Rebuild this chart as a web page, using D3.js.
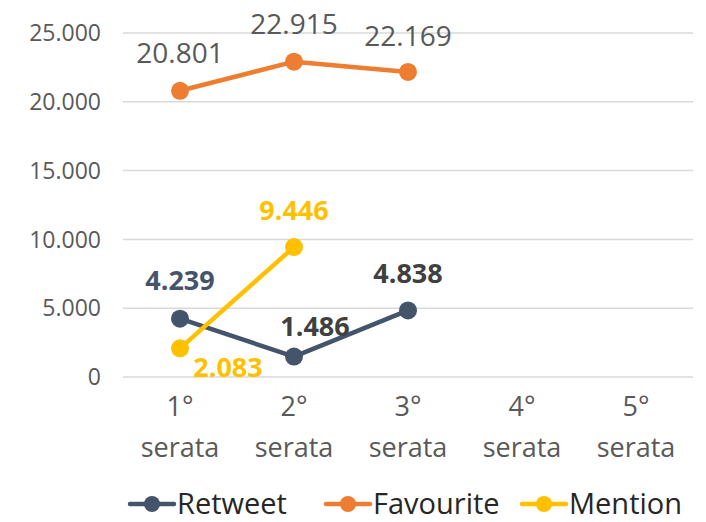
<!DOCTYPE html>
<html>
<head>
<meta charset="utf-8">
<script src="https://cdnjs.cloudflare.com/ajax/libs/d3/7.8.5/d3.min.js"></script>
<style>
  body { margin: 0; background: #fff; }
  svg text { font-family: "Open Sans", "DejaVu Sans", sans-serif; }
</style>
</head>
<body>
<div id="chart"></div>
<script>
const categories = ["1°|serata", "2°|serata", "3°|serata", "4°|serata", "5°|serata"];
const retweet = [4239, 1486, 4838];
const favourite = [20801, 22915, 22169];
const mention = [2083, 9446];
const yTicks = [0, 5000, 10000, 15000, 20000, 25000];

const W = 706, H = 522;
const margin = {top: 33, right: 13, bottom: 145, left: 123};
const width = W - margin.left - margin.right,
  height = H - margin.top - margin.bottom;

const svg = d3.select("#chart").append("svg")
  .attr("width", W).attr("height", H);
const g = svg.append("g")
  .attr("transform", `translate(${margin.left},${margin.top})`);

const x = d3.scaleBand().domain(categories).range([0, width]);
const y = d3.scaleLinear().domain([0, 25000]).range([height, 0]);
const fmt = d => d3.format(",")(d).replace(/,/g, ".");

// gridlines
g.selectAll(".grid").data(yTicks).join("line")
  .attr("x1", 0).attr("x2", width)
  .attr("y1", d => y(d)).attr("y2", d => y(d))
  .style("stroke", "#d9d9d9").style("stroke-width", 1.5);

// y labels
g.selectAll(".ylab").data(yTicks).join("text")
  .attr("x", -22).attr("y", d => y(d)).attr("dy", "0.36em")
  .attr("text-anchor", "end")
  .style("font-size", "23px").style("fill", "#595959")
  .text(fmt);

// x labels
const xl = g.selectAll(".xlab").data(categories).join("text")
  .attr("text-anchor", "middle")
  .attr("transform", d => `translate(${x(d) + x.bandwidth() / 2},${height + 39})`)
  .style("font-size", "27px").style("fill", "#595959");
xl.append("tspan").attr("x", 0).attr("y", 0).text(d => d.split("|")[0]);
xl.append("tspan").attr("x", 0).attr("y", 41).text(d => d.split("|")[1]);

const cx = i => x(categories[i]) + x.bandwidth() / 2;

const series = [
  {name: "Retweet", values: retweet, color: "#44546a"},
  {name: "Favourite", values: favourite, color: "#ed7d31"},
  {name: "Mention", values: mention, color: "#ffc000"}
];

series.forEach(s => {
  g.append("path")
    .datum(s.values)
    .attr("d", d3.line().x((d, i) => cx(i)).y(d => y(d)))
    .style("fill", "none").style("stroke", s.color)
    .style("stroke-width", 4.5).style("stroke-linejoin", "round");
  g.selectAll(null).data(s.values).join("circle")
    .attr("cx", (d, i) => cx(i)).attr("cy", d => y(d)).attr("r", 9)
    .style("fill", s.color);
});

// data labels
const labels = [
  {s: favourite, i: 0, dx: 0, dy: -38, color: "#595959", bold: false},
  {s: favourite, i: 1, dx: 0, dy: -38, color: "#595959", bold: false},
  {s: favourite, i: 2, dx: 0, dy: -36, color: "#595959", bold: false},
  {s: retweet, i: 0, dx: 0, dy: -38, color: "#44546a", bold: true},
  {s: retweet, i: 1, dx: 21, dy: -30, color: "#404040", bold: true},
  {s: retweet, i: 2, dx: 0, dy: -37, color: "#404040", bold: true},
  {s: mention, i: 0, dx: 48, dy: 19, color: "#ffc000", bold: true},
  {s: mention, i: 1, dx: 0, dy: -37, color: "#ffc000", bold: true}
];
g.selectAll(".dlab").data(labels).join("text")
  .attr("x", d => cx(d.i) + d.dx).attr("y", d => y(d.s[d.i]) + d.dy)
  .attr("dy", "0.36em").attr("text-anchor", "middle")
  .style("font-size", d => d.bold ? "27px" : "28px")
  .style("font-weight", d => d.bold ? "bold" : "normal")
  .style("fill", d => d.color)
  .text(d => fmt(d.s[d.i]));

// legend
const legX = [130, 326, 522];
const leg = svg.selectAll(".leg").data(series).join("g")
  .attr("transform", (d, i) => `translate(${legX[i]},504)`);
leg.append("line").attr("x1", 0).attr("x2", 44)
  .style("stroke", d => d.color).style("stroke-width", 4.5)
  .style("stroke-linecap", "round");
leg.append("circle").attr("cx", 22).attr("r", 8).style("fill", d => d.color);
leg.append("text").attr("x", 47).attr("y", 10)
  .style("font-size", "29px").style("fill", "#262626")
  .text(d => d.name);
</script>
</body>
</html>
